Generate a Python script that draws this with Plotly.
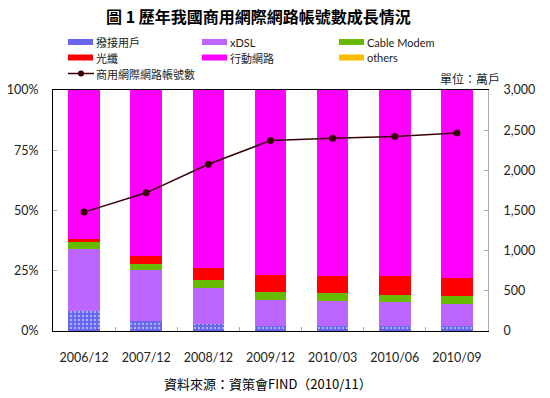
import plotly.graph_objects as go

categories = ["2006/12", "2007/12", "2008/12", "2009/12", "2010/03", "2010/06", "2010/09"]
dialup = [8.3, 4.3, 2.9, 2.2, 2.2, 2.0, 2.0]
xdsl = [25.7, 21.0, 15.1, 10.8, 10.2, 10.0, 9.3]
cable = [2.8, 2.6, 3.2, 3.2, 3.4, 3.1, 3.2]
fiber = [1.2, 3.2, 4.9, 6.9, 7.1, 7.7, 7.6]
mobile = [62.0, 68.9, 73.9, 76.9, 77.1, 77.2, 77.9]
others = [0, 0, 0, 0, 0, 0, 0]
accounts = [1480, 1720, 2075, 2370, 2400, 2420, 2465]

series_names = ["撥接用戶", "xDSL", "Cable Modem", "光纖", "行動網路", "others"]
line_name = "商用網際網路帳號數"
pct_ticks = [0, 25, 50, 75, 100]
pct_labels = ["0%", "25%", "50%", "75%", "100%"]
right_ticks = [0, 500, 1000, 1500, 2000, 2500, 3000]
right_labels = ["0", "500", "1,000", "1,500", "2,000", "2,500", "3,000"]

title_text = "圖 1 歷年我國商用網際網路帳號數成長情況"
unit_text = "單位：萬戶"
source_text = "資料來源：資策會FIND（2010/11）"

colors = ["#6666ee", "#bb66ff", "#66bb00", "#ff0000", "#ff00ff", "#ffbb00"]
line_color = "#3a0008"

W, H = 550, 398
L, R, T, B = 53, 488, 90, 331
FONT = "Lato, Noto Sans CJK TC, sans-serif"
CJK = "Noto Sans CJK TC, sans-serif"

def px(x):
    return (x - L) / (R - L)

def py(y):
    return (B - y) / (B - T)

fig = go.Figure()
stack = [dialup, xdsl, cable, fiber, mobile, others]
for i, (name, vals) in enumerate(zip(series_names, stack)):
    marker = dict(color=colors[i], line=dict(width=0))
    if i == 0:
        marker["pattern"] = dict(shape=".", fgcolor="white", bgcolor=colors[i], size=4, solidity=0.25)
    fig.add_trace(go.Bar(x=categories, y=vals, name=name, marker=marker, yaxis="y"))

fig.add_trace(go.Scatter(x=categories, y=accounts, name=line_name, mode="lines+markers",
                         line=dict(color=line_color, width=1.5),
                         marker=dict(color=line_color, size=7), yaxis="y2"))

# manual legend (window pixel positions)
legend_cols = [68, 202, 339]
legend_rows = [42, 57.5, 73.5]
shapes = []
annotations = []
for i, name in enumerate(series_names):
    cx = legend_cols[i % 3]
    ry = legend_rows[i // 3]
    shapes.append(dict(type="rect", xref="paper", yref="paper",
                       x0=px(cx), x1=px(cx + 25), y0=py(ry + 3), y1=py(ry - 3),
                       fillcolor=colors[i], line=dict(width=0)))
    annotations.append(dict(text=name, xref="paper", yref="paper", x=px(cx + 27), y=py(ry),
                            xanchor="left", yanchor="middle", showarrow=False, borderpad=0,
                            font=dict(family=CJK if i in (0, 3, 4) else FONT, size=11, color="#222")))
ry = legend_rows[2]
cx = legend_cols[0]
shapes.append(dict(type="line", xref="paper", yref="paper", x0=px(cx), x1=px(cx + 26),
                   y0=py(ry), y1=py(ry), line=dict(color=line_color, width=1.5)))
shapes.append(dict(type="circle", xref="paper", yref="paper", x0=px(cx + 10), x1=px(cx + 16),
                   y0=py(ry + 3), y1=py(ry - 3), fillcolor=line_color, line=dict(width=0)))
annotations.append(dict(text=line_name, xref="paper", yref="paper", x=px(cx + 27), y=py(ry),
                        xanchor="left", yanchor="middle", showarrow=False, borderpad=0,
                        font=dict(family=CJK, size=11, color="#222")))

annotations.append(dict(text="<b>" + title_text + "</b>", xref="paper", yref="paper",
                        x=px(258), y=py(16), xanchor="center", yanchor="middle", showarrow=False,
                        font=dict(family=CJK, size=16, color="#000")))
annotations.append(dict(text=unit_text, xref="paper", yref="paper", x=px(502), y=py(79),
                        xanchor="right", yanchor="middle", showarrow=False,
                        font=dict(family=CJK, size=12, color="#222")))
annotations.append(dict(text=source_text, xref="paper", yref="paper", x=px(268), y=py(383),
                        xanchor="center", yanchor="middle", showarrow=False,
                        font=dict(family=CJK, size=13, color="#000")))

fig.update_layout(
    width=W, height=H,
    margin=dict(l=L, r=W - R, t=T, b=H - B, pad=0, autoexpand=False),
    paper_bgcolor="white", plot_bgcolor="white",
    barmode="stack", bargap=0.49,
    showlegend=False,
    shapes=shapes, annotations=annotations,
    font=dict(family=FONT, size=12, color="#222"),
    xaxis=dict(showline=True, linecolor="black", linewidth=1, mirror=True, automargin=False,
               ticks="inside", tickson="boundaries", ticklen=4, tickcolor="#aaa",
               showgrid=False, ticklabelstandoff=15, tickfont=dict(size=12.5)),
    yaxis=dict(range=[0, 100], tickvals=pct_ticks, ticktext=pct_labels, showgrid=False,
               showline=True, linecolor="black", linewidth=1, ticks="inside", automargin=False,
               ticklen=4, tickcolor="#aaa", ticklabelstandoff=11, zeroline=False,
               tickfont=dict(size=12.5)),
    yaxis2=dict(range=[0, 3000], tickvals=right_ticks, ticktext=right_labels, overlaying="y",
                side="right", showgrid=False, showline=True, linecolor="#aaa", linewidth=1,
                ticks="inside", ticklen=4, tickcolor="#aaa", ticklabelstandoff=12, automargin=False,
                zeroline=False, tickfont=dict(size=12.5)),
)

fig.write_html("out.html", config={"displayModeBar": False},
               post_script="document.body.style.margin='0';")
